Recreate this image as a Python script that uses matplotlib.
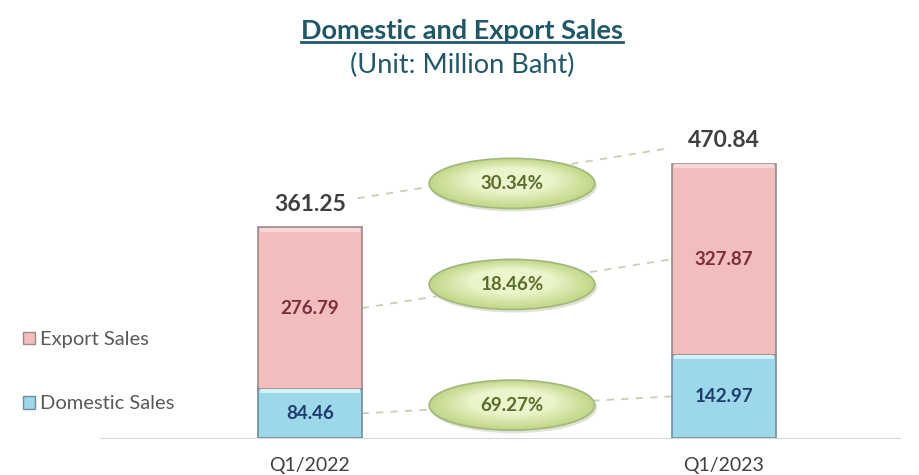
import numpy as np
import matplotlib
matplotlib.use("Agg")
from matplotlib import pyplot as plt
from matplotlib.patches import Ellipse, Patch

FONT = "Lato"

categories = ["Q1/2022", "Q1/2023"]
domestic = [84.46, 142.97]
export = [276.79, 327.87]
totals = [361.25, 470.84]
growth = ["30.34%", "18.46%", "69.27%"]  # total, export, domestic

EXPORT_COLOR = "#f2bdbd"
EXPORT_TOP = "#f8d6d6"
EXPORT_EDGE = "#9a8a8e"
DOMESTIC_COLOR = "#9dd7ea"
DOMESTIC_TOP = "#d4f0f8"
DOMESTIC_EDGE = "#6f8e9a"
TITLE_COLOR = "#215868"

BAR_WIDTH = 0.25
BEVEL = 7
ELL_X = 0.488
ELL_W = 0.40
ELL_H = 86

fig = plt.figure(figsize=(9.19, 4.75), dpi=100)
ax = fig.add_axes([100 / 919, 37 / 475, 800 / 919, 338 / 475])
x = np.arange(len(categories))

ax.bar(x, domestic, BAR_WIDTH, color=DOMESTIC_COLOR, edgecolor=DOMESTIC_EDGE,
       linewidth=1.2, zorder=3)
ax.bar(x, export, BAR_WIDTH, bottom=domestic, color=EXPORT_COLOR,
       edgecolor=EXPORT_EDGE, linewidth=1.2, zorder=3)
# light bevel strip at the top of each segment
ax.bar(x, BEVEL, BAR_WIDTH * 0.96, bottom=np.array(domestic) - BEVEL - 1,
       color=DOMESTIC_TOP, linewidth=0, zorder=4)
ax.bar(x, BEVEL, BAR_WIDTH * 0.96, bottom=np.array(totals) - BEVEL - 1,
       color=EXPORT_TOP, linewidth=0, zorder=4)

for i in x:
    ax.text(i, domestic[i] / 2, f"{domestic[i]:.2f}", ha="center", va="center",
            fontsize=13.5, fontweight="bold", color="#1f3e6e", family=FONT, zorder=5)
    ax.text(i, domestic[i] + export[i] / 2, f"{export[i]:.2f}", ha="center",
            va="center", fontsize=13.5, fontweight="bold", color="#7b2d3b",
            family=FONT, zorder=5)
    ax.text(i, totals[i] + 40, f"{totals[i]:.2f}", ha="center", va="center",
            fontsize=16.5, fontweight="bold", color="#404040", family=FONT, zorder=5)

# dashed connectors
x0 = BAR_WIDTH / 2
x1 = 1 - BAR_WIDTH / 2
lines = [
    ((x0 - 0.01, totals[0] + 50), (x1 - 0.02, totals[1] + 25)),
    ((x0, domestic[0] + export[0] / 2), (x1, domestic[1] + export[1] / 2)),
    ((x0, domestic[0] / 2), (x1, domestic[1] / 2)),
]
nudge = [-17, 0, 0]
for (p, q), lab, dy in zip(lines, growth, nudge):
    ax.plot([p[0], q[0]], [p[1], q[1]], ls=(0, (4, 4)), color="#c9cfb4",
            lw=1.3, zorder=2)
    cy = p[1] + (q[1] - p[1]) * (ELL_X - p[0]) / (q[0] - p[0]) + dy
    # soft shadow
    ax.add_patch(Ellipse((ELL_X + 0.004, cy - 4), ELL_W, ELL_H,
                         color="#dfe3d4", zorder=5))
    for k, c in enumerate(np.linspace(0, 1, 12)):
        s = 1 - 0.5 * c
        col = np.array([0.76, 0.84, 0.53]) * (1 - c) + np.array([0.92, 0.96, 0.80]) * c
        ax.add_patch(Ellipse((ELL_X, cy + 6 * c), ELL_W * s, ELL_H * s,
                             facecolor=col, edgecolor="none", zorder=6))
    ax.add_patch(Ellipse((ELL_X, cy), ELL_W, ELL_H, facecolor="none",
                         edgecolor="#a2b67f", lw=1.2, zorder=7))
    ax.text(ELL_X, cy, lab, ha="center", va="center", fontsize=13.5,
            fontweight="bold", color="#5a6e2c", family=FONT, zorder=8)

ax.set_xlim(-0.507, -0.507 + 800 / 414)
ax.set_ylim(0, 580)
ax.set_xticks(x)
ax.set_xticklabels(categories, fontsize=14, color="#404040", family=FONT)
ax.tick_params(axis="x", length=0, pad=14)
ax.set_yticks([])
for side in ["top", "right", "left"]:
    ax.spines[side].set_visible(False)
ax.spines["bottom"].set_color("#d9d9d9")

handles = [Patch(facecolor=EXPORT_COLOR, edgecolor=EXPORT_EDGE, label="Export Sales"),
           Patch(facecolor=DOMESTIC_COLOR, edgecolor=DOMESTIC_EDGE, label="Domestic Sales")]
fig.legend(handles=handles, loc="upper left", bbox_to_anchor=(5 / 919, 1 - 313 / 475),
           frameon=False, handlelength=0.6, handleheight=0.6, handletextpad=0.25,
           labelspacing=2.35, prop={"family": FONT, "size": 14.5}, labelcolor="#595959")

title = fig.text(0.503, 1 - 31 / 475, "Domestic and Export Sales", ha="center",
                 va="center", fontsize=19.5, fontweight="bold", color=TITLE_COLOR,
                 family=FONT)
fig.text(0.503, 1 - 65 / 475, "(Unit: Million Baht)", ha="center", va="center",
         fontsize=19.5, color=TITLE_COLOR, family=FONT)

# underline the title to its own width
fig.canvas.draw()
bb = title.get_window_extent().transformed(fig.transFigure.inverted())
fig.add_artist(plt.Line2D([bb.x0, bb.x1], [1 - 42 / 475, 1 - 42 / 475],
                          color=TITLE_COLOR, lw=2))

fig.savefig("out.png", dpi=100)
